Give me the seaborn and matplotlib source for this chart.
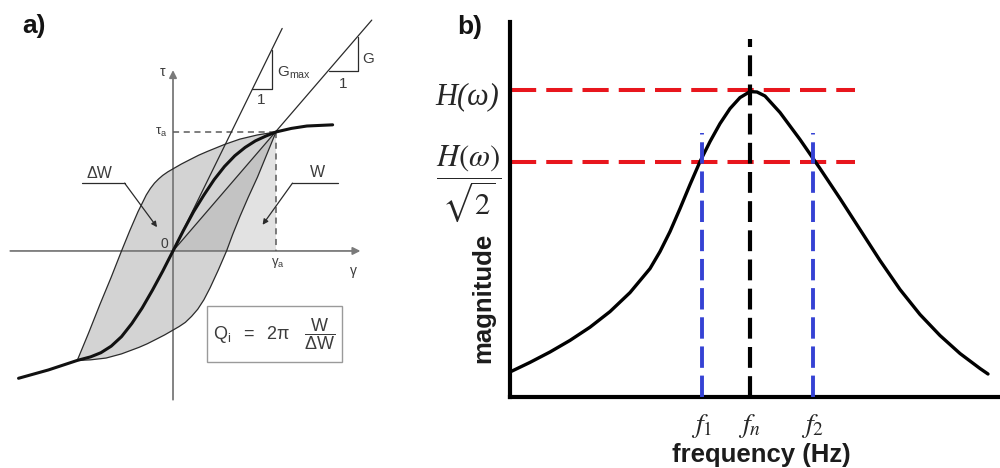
import matplotlib
matplotlib.use("Agg")
import matplotlib.pyplot as plt
from matplotlib.patches import Rectangle
import seaborn as sns

# ---- panel a: hysteresis loop (units: gamma/gamma_a, tau/tau_a) ----
backbone_x = [-1.50, -1.21, -0.93, -0.80, -0.70, -0.60, -0.50, -0.40, -0.30, -0.20,
              -0.10, 0.0, 0.10, 0.20, 0.30, 0.40, 0.50, 0.60, 0.70, 0.80, 0.90,
              1.00, 1.15, 1.30, 1.55]
backbone_y = [-1.07, -1.00, -0.92, -0.89, -0.855, -0.80, -0.72, -0.61, -0.48, -0.33,
              -0.17, 0.0, 0.17, 0.33, 0.47, 0.60, 0.71, 0.80, 0.87, 0.925, 0.965,
              1.00, 1.03, 1.05, 1.06]

upper_x = [-0.93, -0.82, -0.71, -0.60, -0.50, -0.42, -0.34, -0.26, -0.22, -0.18,
           -0.14, -0.10, -0.05, 0.0, 0.08, 0.17, 0.25, 0.33, 0.50, 0.65, 0.82, 1.00]
upper_y = [-0.92, -0.69, -0.45, -0.22, 0.0, 0.17, 0.33, 0.47, 0.525, 0.57,
           0.605, 0.635, 0.665, 0.69, 0.73, 0.77, 0.805, 0.835, 0.895, 0.94, 0.975, 1.00]

lower_x = [1.00, 0.91, 0.82, 0.73, 0.65, 0.58, 0.52, 0.44, 0.36, 0.30, 0.24, 0.18,
           0.12, 0.06, 0.0, -0.08, -0.17, -0.25, -0.33, -0.50, -0.65, -0.80, -0.93]
lower_y = [1.00, 0.81, 0.62, 0.45, 0.29, 0.14, 0.0, -0.16, -0.31, -0.41, -0.49, -0.55,
           -0.60, -0.635, -0.665, -0.705, -0.745, -0.78, -0.81, -0.865, -0.90, -0.915, -0.92]

w_tri_x = [0.0, 1.0, 1.0]
w_tri_y = [0.0, 1.0, 0.0]

g_line_end = (1.93, 1.94)
gmax_line_end = (1.06, 1.87)

# ---- panel b: resonance curve (arbitrary units) ----
freq_curve = [0.0, 0.2, 0.4, 0.6, 0.8, 1.0, 1.2, 1.4, 1.5, 1.6, 1.7, 1.8, 1.9,
              2.0, 2.1, 2.2, 2.3, 2.4, 2.47, 2.55, 2.70, 2.90, 3.10, 3.30, 3.50,
              3.70, 3.90, 4.10, 4.30, 4.50, 4.70, 4.78]
mag_curve = [0.25, 0.346, 0.45, 0.566, 0.698, 0.854, 1.044, 1.284, 1.454, 1.654,
             1.884, 2.124, 2.354, 2.554, 2.734, 2.884, 2.994, 3.054, 3.05, 3.01,
             2.845, 2.575, 2.285, 1.985, 1.675, 1.365, 1.075, 0.825, 0.615, 0.435,
             0.285, 0.23]

f_1, f_n, f_2 = 1.92, 2.40, 3.03
h_peak, h_half = 3.07, 2.35
freq_ticks = [f_1, f_n, f_2]
freq_labels = [r"$f_{\mathit{1}}$", r"$f_{n}$", r"$f_{\mathit{2}}$"]

sns.set_theme(style="white")
plt.rcParams["font.family"] = ["Liberation Sans", "DejaVu Sans"]
plt.rcParams["mathtext.rm"] = "Liberation Sans"
plt.rcParams["mathtext.it"] = "Liberation Sans:italic"
plt.rcParams["mathtext.bf"] = "Liberation Sans:bold"

fig = plt.figure(figsize=(10, 4.68), dpi=100)

# ================= panel a =================
axa = fig.add_axes([0, 0, 0.38, 1])
axa.set_xlim(-1.680, 2.010)
axa.set_ylim(-1.824, 2.109)
axa.axis("off")

ink = "#2b2b2b"
txt = "#3c3c3c"

axa.fill(upper_x + lower_x, upper_y + lower_y, color="#d3d3d3", lw=0, zorder=1)
axa.fill(w_tri_x, w_tri_y, color="#a0a0a0", alpha=0.3, lw=0, zorder=1.5)

arrow_ax = dict(arrowstyle="-|>", color="#7a7a7a", lw=1.3, mutation_scale=11,
                shrinkA=0, shrinkB=0)
axa.annotate("", xy=(1.82, 0), xytext=(-1.58, 0), arrowprops=arrow_ax, zorder=2)
axa.annotate("", xy=(0, 1.52), xytext=(0, -1.25), arrowprops=arrow_ax, zorder=2)

axa.plot([0, 1], [1, 1], ls=(0, (4, 3)), color="#5a5a5a", lw=1.1, zorder=2)
axa.plot([1, 1], [1, 0], ls=(0, (4, 3)), color="#5a5a5a", lw=1.1, zorder=2)

axa.plot([0, g_line_end[0]], [0, g_line_end[1]], color=ink, lw=0.9, zorder=3)
axa.plot([0, gmax_line_end[0]], [0, gmax_line_end[1]], color=ink, lw=0.9, zorder=3)

sns.lineplot(x=upper_x, y=upper_y, sort=False, estimator=None, color=ink, lw=0.9,
             ax=axa, zorder=3)
sns.lineplot(x=lower_x, y=lower_y, sort=False, estimator=None, color=ink, lw=0.9,
             ax=axa, zorder=3)
sns.lineplot(x=backbone_x, y=backbone_y, sort=False, estimator=None, color="#111111",
             lw=2.2, ax=axa, zorder=4)

# slope triangles
axa.plot([0.77, 0.96, 0.96], [1.36, 1.36, 1.69], color=ink, lw=0.9, zorder=3)
axa.plot([1.51, 1.80, 1.80], [1.51, 1.51, 1.80], color=ink, lw=0.9, zorder=3)
axa.text(1.01, 1.50, r"$\mathrm{G_{max}}$", fontsize=11, color=txt, ha="left",
         va="center", math_fontfamily="custom")
axa.text(0.86, 1.27, "1", fontsize=11, color=txt, ha="center", va="center")
axa.text(1.89, 1.61, "G", fontsize=11, color=txt, ha="center", va="center")
axa.text(1.65, 1.40, "1", fontsize=11, color=txt, ha="center", va="center")

# leaders
arrow_ld = dict(arrowstyle="-|>", color=ink, lw=0.9, mutation_scale=8,
                shrinkA=0, shrinkB=0)
axa.plot([-0.88, -0.47], [0.57, 0.57], color=ink, lw=0.9)
axa.annotate("", xy=(-0.155, 0.20), xytext=(-0.47, 0.57), arrowprops=arrow_ld)
axa.plot([1.16, 1.60], [0.57, 0.57], color=ink, lw=0.9)
axa.annotate("", xy=(0.87, 0.22), xytext=(1.16, 0.57), arrowprops=arrow_ld)
axa.text(-0.71, 0.65, "ΔW", fontsize=11.5, color=txt, ha="center", va="center")
axa.text(1.40, 0.66, "W", fontsize=11.5, color=txt, ha="center", va="center")

# axis labels
axa.text(-0.10, 1.50, "τ", fontsize=10, color=txt, ha="center", va="center")
axa.text(1.75, -0.17, "γ", fontsize=10, color=txt, ha="center", va="center")
axa.text(-0.05, 1.0, r"$\mathrm{τ_a}$", fontsize=9.5, color=txt, ha="right",
         va="center", math_fontfamily="custom")
axa.text(1.02, -0.10, r"$\mathrm{γ_a}$", fontsize=9.5, color=txt, ha="center",
         va="center", math_fontfamily="custom")
axa.text(-0.08, 0.06, "0", fontsize=10, color=txt, ha="center", va="center")

axa.add_patch(Rectangle((0.33, -0.93), 1.31, 0.47, facecolor="white",
                        edgecolor="#9a9a9a", lw=1, zorder=5))
axa.text(0.985, -0.70,
         r"$\mathrm{Q_i}\ \ \mathrm{=}\ \ \mathrm{2π}\ \ \ \dfrac{\mathrm{W}}{\mathrm{ΔW}}$",
         fontsize=13, color=txt, ha="center", va="center", zorder=6,
         math_fontfamily="custom")

fig.text(0.034, 1 - 26 / 468, "a)", fontsize=19, fontweight="bold",
         ha="center", va="center", color="#141414")

# ================= panel b =================
axb = fig.add_axes([0.51, 71 / 468, 0.49, 375 / 468])
axb.set_xlim(0, 4.9)
axb.set_ylim(0, 3.75)
for side in ["top", "right"]:
    axb.spines[side].set_visible(False)
for side in ["left", "bottom"]:
    axb.spines[side].set_linewidth(3)
    axb.spines[side].set_color("black")

axb.hlines([h_peak, h_half], 0, 3.45, color="#e8161d", lw=2.9,
           linestyles=(0, (6.5, 2.5)), zorder=2)
sns.lineplot(x=freq_curve, y=mag_curve, color="black", lw=2.4, ax=axb, zorder=3)
axb.vlines([f_1, f_2], 0, 2.64, color="#3542d4", lw=2.8,
           linestyles=(0, (5.5, 2)), zorder=4)
axb.vlines([f_n], 0, 3.58, color="black", lw=3, linestyles=(0, (5, 2)), zorder=4)

axb.set_yticks([])
axb.set_xticks(freq_ticks)
axb.set_xticklabels(freq_labels, fontsize=20, math_fontfamily="stix")
axb.tick_params(axis="x", length=0, pad=11)

axb.set_xlabel("frequency (Hz)", fontsize=18.5, fontweight="bold", color="#1c1c1c")
axb.xaxis.set_label_coords(0.512, -0.123)
axb.set_ylabel("magnitude", fontsize=18.5, fontweight="bold", color="#1c1c1c")
axb.yaxis.set_label_coords(-0.031, 0.264)

axb.text(-0.43, h_peak - 0.07, "H(ω)", fontsize=22, family="Liberation Serif",
         style="italic", ha="center", va="center", clip_on=False)
axb.text(-0.41, h_half - 0.22, r"$\dfrac{H(\omega)}{\sqrt{2}}$", fontsize=22,
         ha="center", va="center", math_fontfamily="stix", clip_on=False)

fig.text(0.470, 1 - 27 / 468, "b)", fontsize=19, fontweight="bold",
         ha="center", va="center", color="#141414")

fig.savefig("out.png", dpi=100)
